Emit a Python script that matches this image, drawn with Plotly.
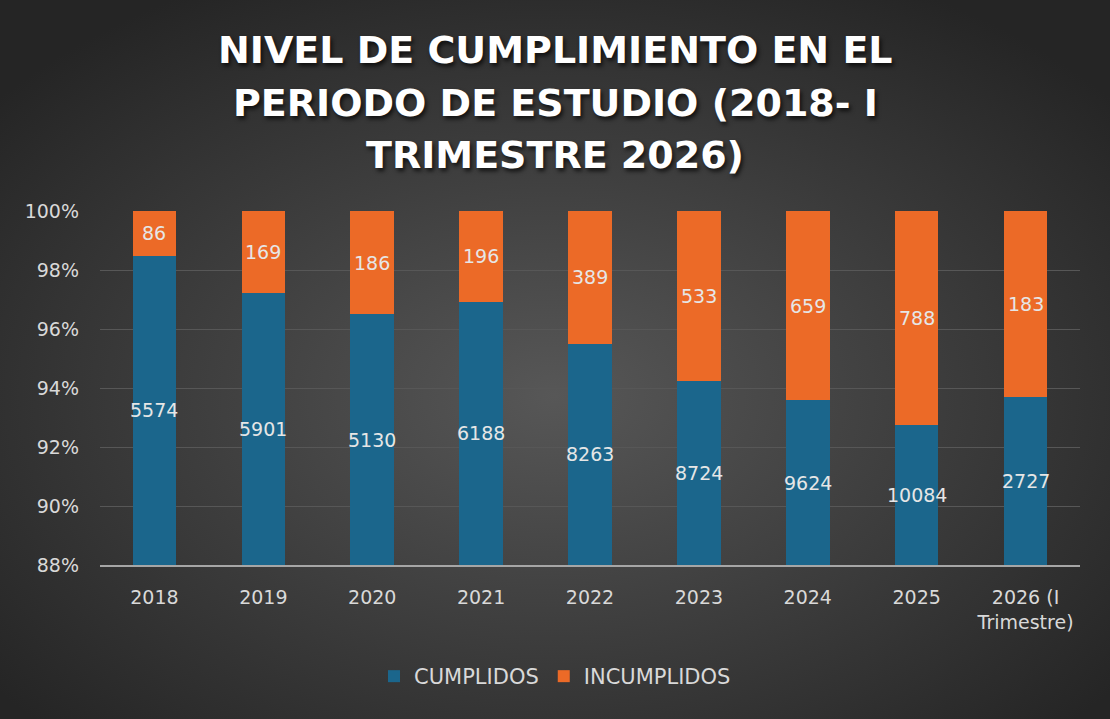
import plotly.graph_objects as go

# datos
anios = ["2018", "2019", "2020", "2021", "2022", "2023", "2024", "2025", "2026 (I<br>Trimestre)"]
cumplidos = [5574, 5901, 5130, 6188, 8263, 8724, 9624, 10084, 2727]
incumplidos = [86, 169, 186, 196, 389, 533, 659, 788, 183]
titulo = ["NIVEL DE CUMPLIMIENTO EN EL", "PERIODO DE ESTUDIO (2018- I", "TRIMESTRE 2026)"]

Y_MIN, Y_MAX = 88, 100

W, H = 1110, 719
M = dict(l=100, r=30, t=211, b=154)
pw = W - M["l"] - M["r"]
ph = H - M["t"] - M["b"]

FUENTE = "DejaVu Sans"
GRIS = "#d9d9d9"

# fondo con degradado radial (imagen svg)
svg = (
    "data:image/svg+xml;utf8,"
    "<svg xmlns='http://www.w3.org/2000/svg' width='1110' height='719'>"
    "<defs><radialGradient id='g' cx='50%' cy='55%' r='65%'>"
    "<stop offset='0%' stop-color='%23575757'/>"
    "<stop offset='100%' stop-color='%23252525'/>"
    "</radialGradient></defs>"
    "<rect width='1110' height='719' fill='url(%23g)'/></svg>"
)

fig = go.Figure()
fig.add_trace(go.Bar(x=anios, y=cumplidos, name="CUMPLIDOS",
                     marker=dict(color="#1b668c", line=dict(width=0))))
fig.add_trace(go.Bar(x=anios, y=incumplidos, name="INCUMPLIDOS",
                     marker=dict(color="#ec6a27", line=dict(width=0))))

# etiquetas centradas en la parte visible de cada segmento
# (en eje de categorias la x de la anotacion es el indice)
anots = []
for k, (c, i) in enumerate(zip(cumplidos, incumplidos)):
    pct = 100 * c / (c + i)
    for val, yc in ((c, (Y_MIN + pct) / 2), (i, (pct + Y_MAX) / 2)):
        anots.append(dict(x=k, y=yc, xref="x", yref="y", text=str(val), showarrow=False,
                          font=dict(family=FUENTE, size=19, color="#e6e6e6")))

# titulo, una anotacion por linea
for n, linea in enumerate(titulo):
    anots.append(dict(
        text=linea, xref="paper", yref="paper",
        x=0.5 - (M["l"] - M["r"]) / 2 / pw, xanchor="center",
        y=1 + (M["t"] - 50 - 52.5 * n) / ph, yanchor="middle", showarrow=False,
        font=dict(family=FUENTE, size=38, color="#ffffff", weight="bold",
                  shadow="2px 3px 4px rgba(0,0,0,0.7)"),
    ))

fig.update_layout(
    width=W, height=H, margin=M,
    barmode="stack", barnorm="percent", bargap=0.6,
    paper_bgcolor="#333333", plot_bgcolor="rgba(0,0,0,0)",
    font=dict(family=FUENTE, color=GRIS, size=19),
    annotations=anots,
    yaxis=dict(range=[Y_MIN, Y_MAX], dtick=2, ticksuffix="%", showgrid=True,
               gridcolor="#575757", gridwidth=1, zeroline=False,
               tickfont=dict(size=19, color=GRIS), ticks="", ticklabelstandoff=20),
    xaxis=dict(type="category", range=[-0.5, len(anios) - 0.5],
               showline=True, linecolor="#a6a6a6", linewidth=2,
               tickfont=dict(size=19, color=GRIS), ticks="", ticklabelstandoff=14),
    legend=dict(orientation="h", x=0.5 - (M["l"] - M["r"]) / 2 / pw, xanchor="center",
                y=-0.315, yanchor="middle", traceorder="normal",
                font=dict(size=21, color=GRIS), itemwidth=30,
                bgcolor="rgba(0,0,0,0)"),
    images=[dict(source=svg, xref="paper", yref="paper",
                 x=-M["l"] / pw, y=1 + M["t"] / ph,
                 sizex=W / pw, sizey=H / ph,
                 sizing="stretch", layer="below", xanchor="left", yanchor="top")],
)

fig.write_html("out.html", config={"displayModeBar": False},
               post_script="document.body.style.margin='0';")
